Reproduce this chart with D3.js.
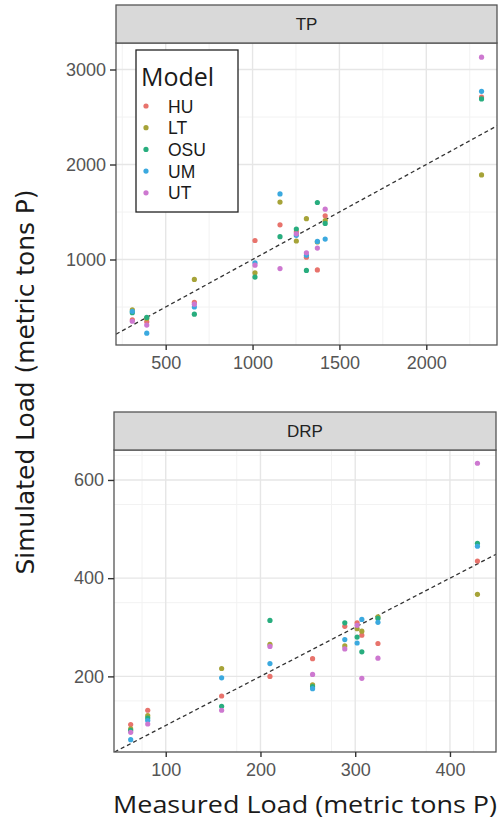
<!DOCTYPE html>
<html>
<head>
<meta charset="utf-8">
<script src="https://cdn.jsdelivr.net/npm/d3@7"></script>
<style>
  body { margin: 0; background: #fff; }
  svg { display: block; }
</style>
</head>
<body>
<div id="chart"></div>
<script>
// model names and colours (ggplot default hue)
var models = ['HU', 'LT', 'OSU', 'UM', 'UT'];
var modelColors = ['#e8736c', '#a6a338', '#28ad7e', '#3ba9df', '#cd78d0'];

// TP panel: measured loads and simulated loads per model
var tpMeasured = [308, 391, 665, 1014, 1158, 1252, 1310, 1373, 1418, 2318];
var tpHU  = [365, 345, 550, 1200, 1365, 1290, 1025,  890, 1460, 2710];
var tpLT  = [470, 380, 790,  860, 1605, 1195, 1430, 1185, 1410, 1890];
var tpOSU = [440, 390, 425,  815, 1240, 1320,  885, 1600, 1380, 2690];
var tpUM  = [455, 225, 500,  965, 1690, 1255, 1045, 1190, 1215, 2770];
var tpUT  = [350, 310, 530,  940,  905, 1270, 1070, 1120, 1530, 3130];

// DRP panel
var drpMeasured = [63, 81, 159, 210, 255, 289, 302, 307, 324, 429];
var drpHU  = [102, 131, 160, 200, 236, 302, 309, 284, 267, 435];
var drpLT  = [ 93, 120, 216, 265, 183, 262, 297, 292, 321, 367];
var drpOSU = [ 90, 115, 139, 314, 179, 309, 280, 250, 318, 471];
var drpUM  = [ 71, 110, 197, 226, 175, 275, 268, 316, 310, 465];
var drpUT  = [ 86, 103, 131, 261, 204, 256, 304, 196, 237, 634];

// ticks
var tpXTicks = [500, 1000, 1500, 2000];
var tpYTicks = [1000, 2000, 3000];
var drpXTicks = [100, 200, 300, 400];
var drpYTicks = [200, 400, 600];

var W = 501, H = 821;
var svg = d3.select('#chart').append('svg')
    .attr('width', W)
    .attr('height', H)
    .style('font-family', '"Liberation Sans", Arial, sans-serif');

var color = d3.scaleOrdinal().domain(models).range(modelColors);

function facet(opts) {
    var g = svg.append('g');
    var x = d3.scaleLinear().domain(opts.xDomain).range([opts.left, opts.right]);
    var y = d3.scaleLinear().domain(opts.yDomain).range([opts.bottom, opts.top]);

    // background
    g.append('rect')
        .attr('x', opts.left).attr('y', opts.top)
        .attr('width', opts.right - opts.left).attr('height', opts.bottom - opts.top)
        .attr('fill', '#fff');

    // minor grid (midpoints between major ticks)
    var xMinor = opts.xTicks.map(function (t) { return t - opts.xStep / 2; })
        .concat([opts.xTicks[opts.xTicks.length - 1] + opts.xStep / 2])
        .filter(function (v) { return v > opts.xDomain[0] && v < opts.xDomain[1]; });
    var yMinor = opts.yTicks.map(function (t) { return t - opts.yStep / 2; })
        .concat([opts.yTicks[opts.yTicks.length - 1] + opts.yStep / 2])
        .filter(function (v) { return v > opts.yDomain[0] && v < opts.yDomain[1]; });

    g.selectAll('.xminor').data(xMinor).enter().append('line')
        .attr('x1', d => x(d)).attr('x2', d => x(d))
        .attr('y1', opts.top).attr('y2', opts.bottom)
        .attr('stroke', '#f2f2f2').attr('stroke-width', 1);
    g.selectAll('.yminor').data(yMinor).enter().append('line')
        .attr('y1', d => y(d)).attr('y2', d => y(d))
        .attr('x1', opts.left).attr('x2', opts.right)
        .attr('stroke', '#f2f2f2').attr('stroke-width', 1);
    g.selectAll('.xmajor').data(opts.xTicks).enter().append('line')
        .attr('x1', d => x(d)).attr('x2', d => x(d))
        .attr('y1', opts.top).attr('y2', opts.bottom)
        .attr('stroke', '#e6e6e6').attr('stroke-width', 1.4);
    g.selectAll('.ymajor').data(opts.yTicks).enter().append('line')
        .attr('y1', d => y(d)).attr('y2', d => y(d))
        .attr('x1', opts.left).attr('x2', opts.right)
        .attr('stroke', '#e6e6e6').attr('stroke-width', 1.4);

    // 1:1 line, clipped to the panel
    var clipId = 'clip-' + opts.name;
    svg.append('clipPath').attr('id', clipId).append('rect')
        .attr('x', opts.left).attr('y', opts.top)
        .attr('width', opts.right - opts.left).attr('height', opts.bottom - opts.top);
    var lo = Math.max(opts.xDomain[0], opts.yDomain[0]);
    var hi = Math.min(opts.xDomain[1], opts.yDomain[1]);
    g.append('line')
        .attr('clip-path', 'url(#' + clipId + ')')
        .attr('x1', x(lo)).attr('y1', y(lo))
        .attr('x2', x(hi)).attr('y2', y(hi))
        .attr('stroke', '#333').attr('stroke-width', 1.3)
        .attr('stroke-dasharray', '4,3');

    // points
    var pts = [];
    opts.series.forEach(function (vals, mi) {
        vals.forEach(function (v, i) {
            pts.push({ model: models[mi], x: opts.measured[i], y: v });
        });
    });
    g.selectAll('.pt').data(pts).enter().append('circle')
        .attr('cx', d => x(d.x)).attr('cy', d => y(d.y))
        .attr('r', 2.6)
        .attr('fill', d => color(d.model));

    // panel border
    g.append('rect')
        .attr('x', opts.left).attr('y', opts.top)
        .attr('width', opts.right - opts.left).attr('height', opts.bottom - opts.top)
        .attr('fill', 'none').attr('stroke', '#555').attr('stroke-width', 1.3);

    // strip
    g.append('rect')
        .attr('x', opts.left).attr('y', opts.stripTop)
        .attr('width', opts.right - opts.left).attr('height', opts.top - opts.stripTop)
        .attr('fill', '#d9d9d9').attr('stroke', '#555').attr('stroke-width', 1.3);
    g.append('text')
        .attr('x', (opts.left + opts.right) / 2)
        .attr('y', (opts.top + opts.stripTop) / 2 + 6)
        .attr('text-anchor', 'middle')
        .attr('font-size', 17)
        .attr('fill', '#222')
        .text(opts.name);

    // axes
    var xAxis = g.append('g')
        .attr('transform', 'translate(0,' + opts.bottom + ')')
        .call(d3.axisBottom(x).tickValues(opts.xTicks).tickSize(5).tickPadding(6).tickFormat(d3.format('d')));
    var yAxis = g.append('g')
        .attr('transform', 'translate(' + opts.left + ',0)')
        .call(d3.axisLeft(y).tickValues(opts.yTicks).tickSize(6).tickPadding(4).tickFormat(d3.format('d')));
    [xAxis, yAxis].forEach(function (a) {
        a.select('.domain').remove();
        a.selectAll('.tick line').attr('stroke', '#333').attr('stroke-width', 1.4);
        a.selectAll('.tick text').attr('fill', '#555').attr('font-size', 18)
            .style('font-family', '"Liberation Sans", Arial, sans-serif');
    });
    return { x: x, y: y };
}

facet({
    name: 'TP',
    left: 116, right: 497, stripTop: 5, top: 43, bottom: 345,
    xDomain: [214, 2407], yDomain: [100, 3279],
    xTicks: tpXTicks, yTicks: tpYTicks, xStep: 500, yStep: 1000,
    measured: tpMeasured,
    series: [tpHU, tpLT, tpOSU, tpUM, tpUT]
});

facet({
    name: 'DRP',
    left: 114, right: 496, stripTop: 412, top: 450, bottom: 752,
    xDomain: [45.4, 448.6], yDomain: [46, 661],
    xTicks: drpXTicks, yTicks: drpYTicks, xStep: 50, yStep: 100,
    measured: drpMeasured,
    series: [drpHU, drpLT, drpOSU, drpUM, drpUT]
});

// legend
var legend = svg.append('g');
legend.append('rect')
    .attr('x', 136).attr('y', 50).attr('width', 102).attr('height', 162)
    .attr('fill', '#fff').attr('stroke', '#222').attr('stroke-width', 1.3);
legend.append('text')
    .attr('x', 141).attr('y', 86)
    .attr('font-size', 25)
    .attr('fill', '#1a1a1a')
    .style('font-family', '"Open Sans", sans-serif')
    .text('Model');
var items = legend.selectAll('.item').data(models).enter().append('g')
    .attr('transform', (d, i) => 'translate(0,' + (106 + i * 21.7) + ')');
items.append('circle').attr('cx', 146).attr('cy', 0).attr('r', 2.6)
    .attr('fill', d => color(d));
items.append('text').attr('x', 168).attr('y', 6.5)
    .attr('font-size', 17.5).attr('fill', '#1a1a1a')
    .text(d => d);

// axis titles
svg.append('text')
    .attr('transform', 'translate(34,382) rotate(-90)')
    .attr('text-anchor', 'middle')
    .attr('font-size', 24)
    .attr('fill', '#1a1a1a')
    .attr('textLength', 385)
    .attr('lengthAdjust', 'spacingAndGlyphs')
    .style('font-family', '"Liberation Sans Narrow", "DejaVu Sans Condensed", sans-serif')
    .text('Simulated Load (metric tons P)');
svg.append('text')
    .attr('x', 305).attr('y', 813)
    .attr('text-anchor', 'middle')
    .attr('font-size', 24)
    .attr('fill', '#1a1a1a')
    .attr('textLength', 384)
    .attr('lengthAdjust', 'spacingAndGlyphs')
    .style('font-family', '"Open Sans", sans-serif')
    .text('Measured Load (metric tons P)');
</script>
</body>
</html>
